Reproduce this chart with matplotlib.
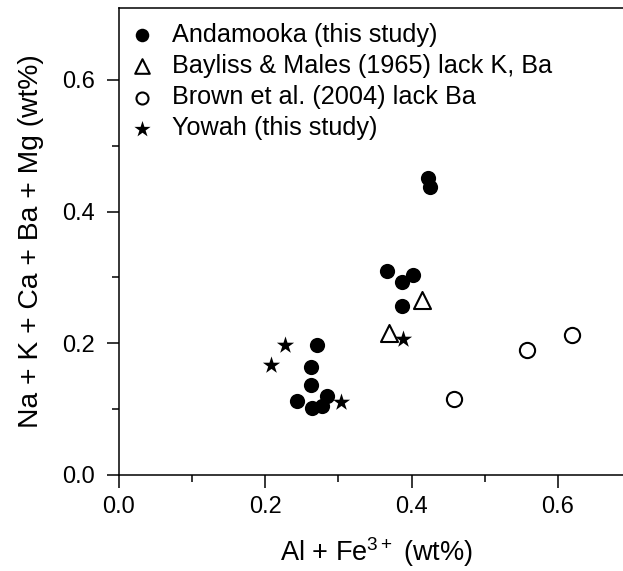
"""
Andamooka / Yowah opal: Na+K+Ca+Ba+Mg against Al+Fe3+ (wt%)
"""

import matplotlib
matplotlib.use("Agg")
import matplotlib.pyplot as plt

# Andamooka (this study)
and_x = [0.422, 0.425, 0.366, 0.387, 0.402, 0.387, 0.271, 0.262, 0.263,
         0.243, 0.284, 0.264, 0.278]
and_y = [0.451, 0.437, 0.310, 0.293, 0.303, 0.257, 0.197, 0.164, 0.136,
         0.112, 0.120, 0.102, 0.104]

# Bayliss & Males (1965)
bay_x = [0.415, 0.369]
bay_y = [0.266, 0.215]

# Brown et al. (2004)
brown_x = [0.458, 0.558, 0.619]
brown_y = [0.115, 0.189, 0.213]

# Yowah (this study)
yow_x = [0.227, 0.208, 0.303, 0.388]
yow_y = [0.197, 0.166, 0.110, 0.207]

xticks = [0.0, 0.2, 0.4, 0.6]
yticks = [0.0, 0.2, 0.4, 0.6]

plt.rcParams['font.family'] = ['Liberation Sans', 'DejaVu Sans']
plt.rcParams['mathtext.fontset'] = 'custom'
plt.rcParams['mathtext.rm'] = 'Liberation Sans'
plt.rcParams['mathtext.it'] = 'Liberation Sans:italic'

fig = plt.figure(figsize=(6.23, 5.71), dpi=100)
ax = fig.add_axes([0.1907, 0.1687, 0.8093, 0.8168])

ax.scatter(and_x, and_y, s=120, c='k', marker='o', linewidths=0, zorder=3,
           label='Andamooka (this study)')
ax.scatter(bay_x, bay_y, s=150, facecolors='white', edgecolors='k', marker='^',
           linewidths=1.5, zorder=3, label='Bayliss & Males (1965) lack K, Ba')
ax.scatter(brown_x, brown_y, s=120, facecolors='white', edgecolors='k', marker='o',
           linewidths=1.5, zorder=3, label='Brown et al. (2004) lack Ba')
ax.scatter(yow_x, yow_y, s=170, c='k', marker='*', linewidths=0, zorder=4,
           label='Yowah (this study)')

ax.set_xlim(0, 0.689)
ax.set_ylim(0, 0.709)
ax.set_xticks(xticks)
ax.set_yticks(yticks)
ax.set_xticks([0.1, 0.3, 0.5], minor=True)
ax.set_yticks([0.1, 0.3, 0.5], minor=True)
ax.set_xticklabels(['%.1f' % t for t in xticks])
ax.set_yticklabels(['%.1f' % t for t in yticks])
ax.tick_params(which='major', direction='out', length=9, width=1.1, labelsize=17)
ax.tick_params(axis='x', which='major', pad=6)
ax.tick_params(axis='y', which='major', pad=8)
ax.tick_params(which='minor', direction='out', length=5, width=1.1)

ax.spines['right'].set_visible(False)
for s in ['left', 'bottom', 'top']:
    ax.spines[s].set_linewidth(1.1)

ax.set_xlabel(r'Al + Fe$^{\mathrm{3+}}$ (wt%)', fontsize=19.5)
ax.xaxis.set_label_coords(0.51, -0.13)
ax.set_ylabel('Na + K + Ca + Ba + Mg (wt%)', fontsize=20.3, labelpad=13)

leg = ax.legend(loc='upper left', bbox_to_anchor=(0.0, 0.99), frameon=False,
                fontsize=18.2, handletextpad=0.72, labelspacing=0.28,
                borderaxespad=0.2, borderpad=0.2, handlelength=1.0)
# legend symbols a bit smaller than the data points
for h, sz in zip(leg.legend_handles, [95, 110, 75, 150]):
    h.set_sizes([sz])

fig.savefig('out.png', dpi=100)
